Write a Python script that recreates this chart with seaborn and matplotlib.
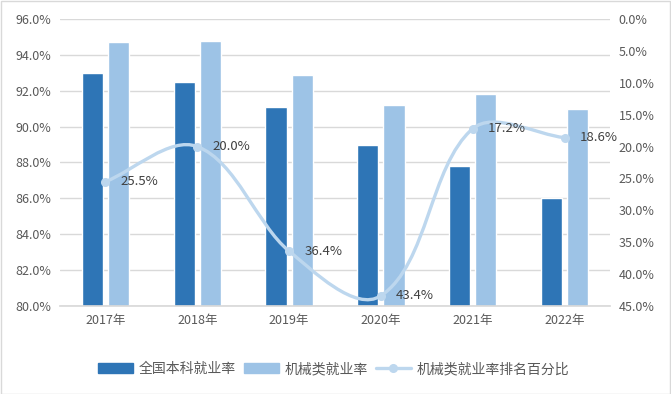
import numpy as np
import pandas as pd
import seaborn as sns
import matplotlib.pyplot as plt
from matplotlib.path import Path
from matplotlib.patches import PathPatch, Patch, Rectangle
from matplotlib.lines import Line2D
from matplotlib.ticker import FuncFormatter, MultipleLocator

sns.set_theme(style="white")
plt.rcParams['font.family'] = ['Noto Sans CJK SC', 'DejaVu Sans']

years = ["2017年", "2018年", "2019年", "2020年", "2021年", "2022年"]
national_rate = [93.0, 92.5, 91.1, 89.0, 87.8, 86.0]
mech_rate = [94.7, 94.8, 92.9, 91.2, 91.8, 91.0]
mech_rank_pct = [25.5, 20.0, 36.4, 43.4, 17.2, 18.6]
series_names = ["全国本科就业率", "机械类就业率", "机械类就业率排名百分比"]

dark = "#2E75B6"
light = "#9DC3E6"
line_c = "#BDD7EE"
txt = "#595959"

df = pd.DataFrame({
    "year": years * 2,
    "rate": national_rate + mech_rate,
    "series": [series_names[0]] * 6 + [series_names[1]] * 6,
})

fig = plt.figure(figsize=(6.71, 3.94), dpi=100)
ax = fig.add_axes([0.0888, 0.2234, 0.8209, 0.7284])

sns.barplot(data=df, x="year", y="rate", hue="series", palette=[dark, light],
            width=0.57, gap=0.19, saturation=1, ax=ax, legend=False)

ax.set_ylim(80, 96)
ax.set_xlim(-0.5, 5.5)
ax.yaxis.set_major_locator(MultipleLocator(2))
ax.yaxis.set_major_formatter(FuncFormatter(lambda v, p: f"{v:.1f}%"))
ax.grid(axis="y", color="#D9D9D9", linewidth=1)
ax.set_axisbelow(True)
for s in ["top", "left", "right"]:
    ax.spines[s].set_visible(False)
ax.spines["bottom"].set_color("#D9D9D9")
ax.set_xlabel("")
ax.set_ylabel("")
ax.tick_params(axis="both", length=0, labelsize=9, colors=txt, pad=6)

# secondary axis, inverted
ax2 = ax.twinx()
ax2.set_ylim(45, 0)
ax2.yaxis.set_major_locator(MultipleLocator(5))
ax2.yaxis.set_major_formatter(FuncFormatter(lambda v, p: f"{v:.1f}%"))
for s in ax2.spines.values():
    s.set_visible(False)
ax2.tick_params(axis="y", length=0, labelsize=9, colors=txt, pad=6)
ax2.grid(False)

# smoothed line: bezier segments, tangents from neighbours, handle length
# proportional to segment length (worked out in screen-like units)
x = np.arange(len(mech_rank_pct), dtype=float)
y = np.array(mech_rank_pct, dtype=float)
sx, sy = 92.0, 287.0 / 45.0
pts = np.column_stack([x * sx, y * sy])
n = len(pts)
tang = []
for i in range(n):
    d = pts[min(i + 1, n - 1)] - pts[max(i - 1, 0)]
    tang.append(d / np.linalg.norm(d))
k = 0.3
verts = [tuple(pts[0])]
codes = [Path.MOVETO]
for i in range(n - 1):
    L = np.linalg.norm(pts[i + 1] - pts[i]) * k
    c1 = pts[i] + tang[i] * L
    c2 = pts[i + 1] - tang[i + 1] * L
    verts += [tuple(c1), tuple(c2), tuple(pts[i + 1])]
    codes += [Path.CURVE4] * 3
verts = [(vx / sx, vy / sy) for vx, vy in verts]
ax2.add_patch(PathPatch(Path(verts, codes), facecolor="none", edgecolor=line_c,
                        linewidth=2.4, capstyle="round"))
ax2.plot(x, y, linestyle="none", marker="o", markersize=5.5, color=line_c)
for xi, yi in zip(x, y):
    ax2.annotate(f"{yi:.1f}%", (xi, yi), xytext=(11, 0), textcoords="offset points",
                 ha="left", va="center", fontsize=9.5, color="#404040")

handles = [Patch(color=dark), Patch(color=light),
           Line2D([], [], color=line_c, linewidth=2.4, marker="o", markersize=5.5)]
fig.legend(handles, series_names, loc="center", bbox_to_anchor=(0.497, 0.063),
           ncol=3, frameon=False, fontsize=10, labelcolor=txt,
           handlelength=2.5, handletextpad=0.4, columnspacing=0.6)

fig.add_artist(Rectangle((0.001, 0.001), 0.997, 0.997, transform=fig.transFigure,
                         fill=False, edgecolor="#D9D9D9", linewidth=1))

fig.savefig("out.png", dpi=100, facecolor="white")
